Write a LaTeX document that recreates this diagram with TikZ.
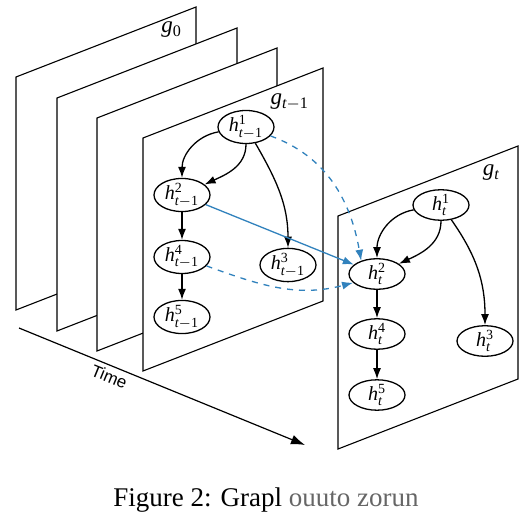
\documentclass[tikz,border=0pt]{standalone}
\usepackage{fontspec}
\setmainfont{Liberation Serif}
\newfontfamily\timefont{Liberation Sans}
\usetikzlibrary{arrows.meta,shapes.geometric}

\definecolor{linkblue}{RGB}{49,130,189}
\newcommand{\hv}[2]{$\mathit{h}^{\mathrm{#1}}_{#2}$}
\newcommand{\tp}{\mathit{t}-\mathrm{1}}
\newcommand{\tc}{\mathit{t}}

\tikzset{
    panel/.style={draw, fill=white, line width=0.55pt},
    hnode/.style={ellipse, draw, line width=0.65pt, minimum width=28pt,
        minimum height=12.5pt, inner sep=0pt, font=\fontsize{10}{11}\selectfont},
    edge/.style={-{Latex[length=5.5pt,width=4pt]}, line width=0.65pt},
    link/.style={edge, linkblue},
    glabel/.style={anchor=east, font=\fontsize{11.5}{13}\selectfont},
}

\begin{document}
\begin{tikzpicture}[x=0.5pt, y=0.5pt]
    \useasboundingbox (0,0) rectangle (529,520);

    % earlier snapshots, back to front
    \foreach \px/\py in {16/210, 57/189, 97/169, 143/149}
        \draw[panel] (\px,\py) -- ++(0,233) -- ++(180,70) -- ++(0,-233) -- cycle;
    \node[glabel] (g0) at (189,490) {$\mathit{g}_{\mathrm{0}}$};
    \node[glabel] (gprev) at (316,418) {$\mathit{g}_{\tp}$};

    % time axis
    \coordinate (t0) at (19,192);
    \coordinate (t1) at (305,75);
    \draw[-{Latex[length=7pt,width=5pt]}, line width=0.6pt] (t0) --
        node[sloped, below, pos=0.33, inner sep=2pt, font=\timefont\fontsize{8.5}{9}\selectfont] (time) {Time} (t1);

    % graph at t-1
    \node[hnode] (a1) at (246,393) {\hv{1}{\tp}};
    \node[hnode] (a2) at (182,325) {\hv{2}{\tp}};
    \node[hnode] (a3) at (288,255) {\hv{3}{\tp}};
    \node[hnode] (a4) at (182,263) {\hv{4}{\tp}};
    \node[hnode] (a5) at (182,203) {\hv{5}{\tp}};
    \draw[edge] (a1) to[out=190, in=90] (a2);
    \draw[edge] (a1) to[out=-90, in=25] (a2);
    \draw[edge] (a1) to[out=-60, in=90] (a3);
    \draw[edge] (a2) -- (a4);
    \draw[edge] (a4) -- (a5);

    % current snapshot
    \draw[panel] (338,71) -- ++(0,233) -- ++(180,70) -- ++(0,-233) -- cycle;
    \node[glabel] (gcur) at (507,347) {$\mathit{g}_{\tc}$};

    % graph at t
    \node[hnode] (b1) at (441,315) {\hv{1}{\tc}};
    \node[hnode] (b2) at (377,246) {\hv{2}{\tc}};
    \node[hnode] (b3) at (485,179) {\hv{3}{\tc}};
    \node[hnode] (b4) at (377,186) {\hv{4}{\tc}};
    \node[hnode] (b5) at (377,125) {\hv{5}{\tc}};
    \draw[edge] (b1) to[out=190, in=90] (b2);
    \draw[edge] (b1) to[out=-90, in=25] (b2);
    \draw[edge] (b1) to[out=-55, in=90] (b3);
    \draw[edge] (b2) -- (b4);
    \draw[edge] (b4) -- (b5);

    % links across time
    \draw[link] (a2) -- (b2);
    \draw[link, dashed] (a1) to[out=-20, in=100] (b2.140);
    \draw[link, dashed] (a4) to[out=-20, in=195] (b2.200);

    \node (caption) at (266,20) {\fontsize{13.5}{15}\selectfont Figure 2: Grapl \textcolor{black!60}{ouuto zorun}};
\end{tikzpicture}
\end{document}
